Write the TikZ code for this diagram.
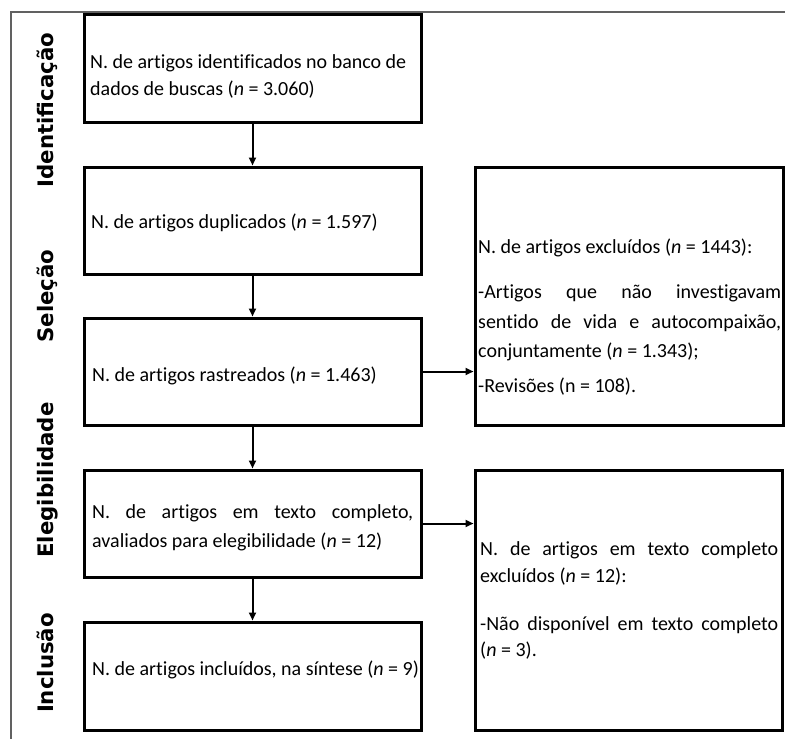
\documentclass[tikz,border=0pt]{standalone}
\usepackage{fontspec}
\setmainfont{Carlito}[Ligatures={NoCommon}]
\newfontfamily\labelfont{DejaVu Sans}
\usetikzlibrary{arrows.meta}
\begin{document}
\begin{tikzpicture}[x=1pt,y=-1pt,
  box/.style={draw=black, line width=3pt, inner sep=0pt, rectangle},
  lbl/.style={font=\labelfont\bfseries\fontsize{21.3}{24}\selectfont, rotate=90, anchor=base, inner sep=0pt},
  txt/.style={font=\fontsize{20}{24}\selectfont, anchor=base west, inner sep=0pt},
  arr/.style={line width=2pt, -{Triangle[length=8pt,width=7pt]}},
  frameline/.style={draw=black!62, line width=1.3pt}]
\useasboundingbox (0,0) rectangle (785,739);
% frame
\draw[frameline] (11,739) -- (11,12) -- (785,12);
% stage labels
\node[lbl] (l1) at (53,110) {Identificação};
\node[lbl] (l2) at (53,296) {Seleção};
\node[lbl] (l3) at (53,480) {Elegibilidade};
\node[lbl] (l4) at (53,663) {Inclusão};
% boxes
\node[box, minimum width=337pt, minimum height=108pt] (b1) at (252.5,68) {};
\node[box, minimum width=337pt, minimum height=107pt] (b2) at (252.5,220.5) {};
\node[box, minimum width=337pt, minimum height=107pt] (b3) at (252.5,371.5) {};
\node[box, minimum width=337pt, minimum height=107pt] (b4) at (252.5,523.5) {};
\node[box, minimum width=337pt, minimum height=108pt] (b5) at (252.5,676) {};
\node[box, minimum width=308pt, minimum height=258pt] (r1) at (629,296) {};
\node[box, minimum width=307pt, minimum height=260pt] (r2) at (628.5,600) {};
% texts
\node[txt] (t1a) at (90,68) {N. de artigos identificados no banco de};
\node[txt] (t1b) at (90,95) {dados de buscas (\textit{n} = 3.060)};
\node[txt] (t2) at (91,228) {N. de artigos duplicados (\textit{n} = 1.597)};
\node[txt] (t3) at (92,381) {N. de artigos rastreados (\textit{n} = 1.463)};
\node[txt] (t4a) at (92,518) {\makebox[321pt][s]{N. de artigos em texto completo,}};
\node[txt] (t4b) at (92,547) {avaliados para elegibilidade (\textit{n} = 12)};
\node[txt] (t5) at (92,675) {N. de artigos incluídos, na síntese (\textit{n} = 9)};
\node[txt] (r1a) at (478,253) {N. de artigos excluídos (\textit{n} = 1443):};
\node[txt] (r1b) at (478,298) {\makebox[303pt][s]{-Artigos que não investigavam}};
\node[txt] (r1c) at (478,328) {\makebox[303pt][s]{sentido de vida e autocompaixão,}};
\node[txt] (r1d) at (478,357) {conjuntamente (\textit{n} = 1.343);};
\node[txt] (r1e) at (478,392) {-Revisões (n = 108).};
\node[txt] (r2a) at (480,555) {\makebox[298pt][s]{N. de artigos em texto completo}};
\node[txt] (r2b) at (480,582) {excluídos (\textit{n} = 12):};
\node[txt] (r2c) at (480,630) {\makebox[298pt][s]{-Não disponível em texto completo}};
\node[txt] (r2d) at (480,656) {(\textit{n} = 3).};
% connectors
\draw[arr] (b1.south) -- (b2.north);
\draw[arr] (b2.south) -- (b3.north);
\draw[arr] (b3.south) -- (b4.north);
\draw[arr] (b4.south) -- (b5.north);
\draw[arr] (b3.east) -- (b3.east -| r1.west);
\draw[arr] (b4.east) -- (b4.east -| r2.west);
\end{tikzpicture}
\end{document}
